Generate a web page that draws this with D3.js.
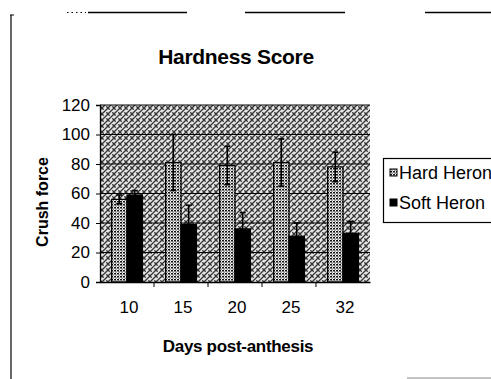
<!DOCTYPE html>
<html>
<head>
<meta charset="utf-8">
<script src="https://cdn.jsdelivr.net/npm/d3@7"></script>
<style>
  html, body { margin: 0; padding: 0; background: #fff; }
  svg { display: block; }
  text { font-family: "Liberation Sans", Arial, sans-serif; fill: #000; }
</style>
</head>
<body>
<svg id="chart" width="491" height="379"></svg>
<script>
// Crush force by days post-anthesis for two Heron lines
const days = ["10", "15", "20", "25", "32"];
const seriesNames = ["Hard Heron", "Soft Heron"];
const hardHeron = [56, 81, 79, 81, 78];
const hardHeronErr = [3, 19, 13, 16, 10];
const softHeron = [59, 39, 36, 31, 33];
const softHeronErr = [3, 13, 11, 9, 8];
const yTicks = [0, 20, 40, 60, 80, 100, 120];

const svg = d3.select("#chart");
const defs = svg.append("defs");

// dithered grey plot-area fill
const bgPat = defs.append("pattern").attr("id", "bgHatch")
  .attr("width", 6).attr("height", 6).attr("patternUnits", "userSpaceOnUse");
bgPat.append("rect").attr("width", 6).attr("height", 6).attr("fill", "#e4e4e4");
bgPat.append("path").attr("d", "M-1,2 L2,-1 M0,6 L6,0 M4,7 L7,4")
  .attr("stroke", "#333").attr("stroke-width", 1.3);
bgPat.append("rect").attr("x", 1).attr("y", 1).attr("width", 1).attr("height", 1).attr("fill", "#555");
bgPat.append("rect").attr("x", 4).attr("y", 4).attr("width", 1).attr("height", 1).attr("fill", "#555");

// speckled fill for the Hard Heron bars
const hardPat = defs.append("pattern").attr("id", "hardDots")
  .attr("width", 3).attr("height", 3).attr("patternUnits", "userSpaceOnUse");
hardPat.append("rect").attr("width", 3).attr("height", 3).attr("fill", "#fff");
hardPat.append("rect").attr("x", 0).attr("y", 0).attr("width", 2).attr("height", 1.5).attr("fill", "#111");
hardPat.append("rect").attr("x", 1.5).attr("y", 1.5).attr("width", 1.2).attr("height", 1.2).attr("fill", "#333");

// page frame remnants
svg.append("line").attr("x1", 11).attr("x2", 11).attr("y1", 15).attr("y2", 379)
  .attr("stroke", "#000").attr("stroke-width", 1.2);
svg.append("line").attr("x1", 10).attr("x2", 14).attr("y1", 15).attr("y2", 15)
  .attr("stroke", "#000");
[[88, 187], [245, 345], [425, 491]].forEach(([a, b]) => {
  svg.append("line").attr("x1", a).attr("x2", b).attr("y1", 12.5).attr("y2", 12.5)
    .attr("stroke", "#000").attr("stroke-width", 1.3);
});
svg.append("line").attr("x1", 67).attr("x2", 86).attr("y1", 12.5).attr("y2", 12.5)
  .attr("stroke", "#000").attr("stroke-dasharray", "1.5,3");
svg.append("line").attr("x1", 407).attr("x2", 491).attr("y1", 378).attr("y2", 378)
  .attr("stroke", "#888").attr("stroke-width", 1);

const plot = { left: 100, right: 370, top: 105, bottom: 282 };

const x0 = d3.scaleBand().domain(days).range([plot.left, plot.right]).paddingInner(0).paddingOuter(0);
const groupWidth = x0.bandwidth();
const barW = groupWidth / 3.5; // gap width 150%
const y = d3.scaleLinear().domain([0, 120]).range([plot.bottom, plot.top]);

// plot area
svg.append("rect")
  .attr("x", plot.left).attr("y", plot.top)
  .attr("width", plot.right - plot.left).attr("height", plot.bottom - plot.top)
  .attr("fill", "url(#bgHatch)");

// gridlines
svg.append("g").selectAll("line").data(yTicks.filter(t => t > 0)).join("line")
  .attr("x1", plot.left).attr("x2", plot.right)
  .attr("y1", d => y(d)).attr("y2", d => y(d))
  .attr("stroke", "#000").attr("stroke-width", 1.2);

// bars
const barData = days.map((d, i) => [
  { day: d, s: 0, v: hardHeron[i], e: hardHeronErr[i] },
  { day: d, s: 1, v: softHeron[i], e: softHeronErr[i] }
]).flat();

const barX = d => x0(d.day) + groupWidth / 2 - barW + d.s * barW;

svg.append("g").selectAll("rect").data(barData).join("rect")
  .attr("x", barX)
  .attr("y", d => y(d.v))
  .attr("width", barW)
  .attr("height", d => y(0) - y(d.v))
  .attr("fill", d => d.s === 0 ? "url(#hardDots)" : "#000")
  .attr("stroke", "#000").attr("stroke-width", 1.2);

// error bars
const eb = svg.append("g").attr("stroke", "#000").attr("stroke-width", 1.6);
eb.selectAll("line.v").data(barData).join("line").attr("class", "v")
  .attr("x1", d => barX(d) + barW / 2).attr("x2", d => barX(d) + barW / 2)
  .attr("y1", d => y(d.v - d.e)).attr("y2", d => y(d.v + d.e));
eb.selectAll("line.cap").data(barData).join("line").attr("class", "cap")
  .attr("x1", d => barX(d) + barW / 2 - 3).attr("x2", d => barX(d) + barW / 2 + 3)
  .attr("y1", d => y(d.v + d.e)).attr("y2", d => y(d.v + d.e));
eb.selectAll("line.capb").data(barData).join("line").attr("class", "capb")
  .attr("x1", d => barX(d) + barW / 2 - 3).attr("x2", d => barX(d) + barW / 2 + 3)
  .attr("y1", d => y(d.v - d.e)).attr("y2", d => y(d.v - d.e));

// y axis
const yAxis = svg.append("g").attr("transform", `translate(${plot.left},0)`)
  .call(d3.axisLeft(y).tickValues(yTicks).tickSize(4).tickPadding(6));
yAxis.select(".domain").attr("stroke-width", 1.3);
yAxis.selectAll("text").attr("font-size", 17).attr("font-family", "Liberation Sans, Arial, sans-serif");

// x axis: ticks at category boundaries
const xAxis = svg.append("g").attr("transform", `translate(0,${plot.bottom})`)
  .call(d3.axisBottom(x0).tickSize(0).tickPadding(19));
xAxis.select(".domain").attr("stroke-width", 1.3);
xAxis.selectAll("text").attr("font-size", 17).attr("font-family", "Liberation Sans, Arial, sans-serif")
  .attr("dx", 2);
svg.append("g").selectAll("line").data(days.slice(1)).join("line")
  .attr("x1", d => x0(d)).attr("x2", d => x0(d))
  .attr("y1", plot.bottom).attr("y2", plot.bottom + 5)
  .attr("stroke", "#000");

// titles
svg.append("text").attr("x", 236).attr("y", 64).attr("text-anchor", "middle")
  .attr("font-size", 21).attr("font-weight", "bold").attr("letter-spacing", -0.3)
  .text("Hardness Score");
svg.append("text").attr("x", 238).attr("y", 352).attr("text-anchor", "middle")
  .attr("font-size", 17).attr("font-weight", "bold").attr("letter-spacing", -0.3)
  .text("Days post-anthesis");
svg.append("text").attr("transform", "translate(48,202) rotate(-90)")
  .attr("text-anchor", "middle").attr("font-size", 16).attr("font-weight", "bold")
  .text("Crush force");

// legend
const lg = svg.append("g");
lg.append("rect").attr("x", 383.5).attr("y", 158.5).attr("width", 120).attr("height", 64)
  .attr("fill", "#fff").attr("stroke", "#000").attr("stroke-width", 1.2);
seriesNames.forEach((name, i) => {
  const cy = 173 + i * 30;
  lg.append("rect").attr("x", 390).attr("y", cy - 4).attr("width", 7).attr("height", 7)
    .attr("fill", i === 0 ? "url(#hardDots)" : "#000").attr("stroke", "#000");
  lg.append("text").attr("x", 399).attr("y", cy + 6).attr("font-size", 18)
    .text(name);
});
</script>
</body>
</html>
